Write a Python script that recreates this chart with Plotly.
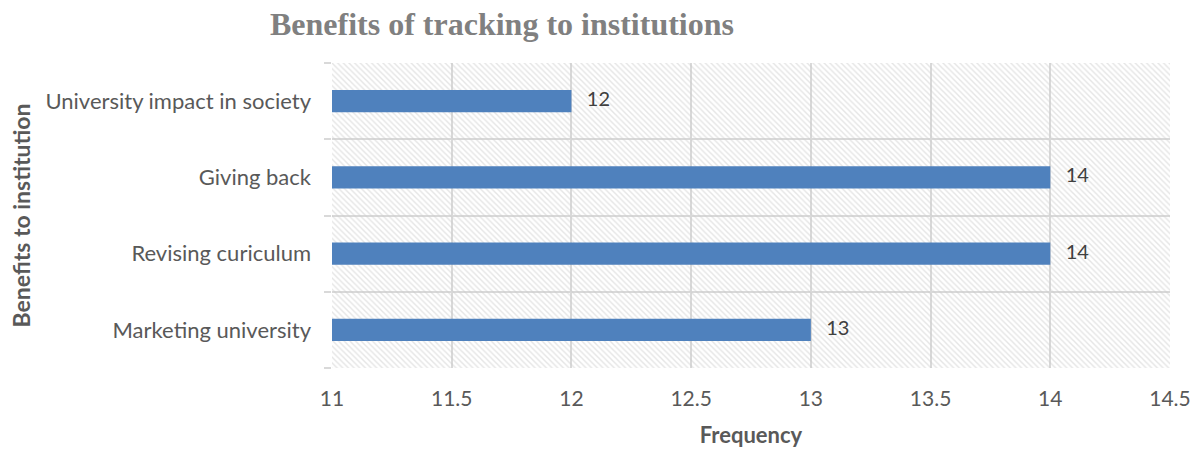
import plotly.graph_objects as go

categories = ["Marketing university", "Revising curiculum", "Giving back", "University impact in society"]
values = [13, 14, 14, 12]
x_ticks = [11, 11.5, 12, 12.5, 13, 13.5, 14, 14.5]
x_tick_labels = ["11", "11.5", "12", "12.5", "13", "13.5", "14", "14.5"]

XMIN, XMAX = 11, 14.5
FONT = "Lato, Open Sans, sans-serif"
GRID = "#D9D9D9"

fig = go.Figure()

# hatched plot-area background (decoration)
fig.add_trace(go.Bar(
    y=categories, x=[XMAX - XMIN] * len(categories), base=XMIN,
    orientation="h", width=1,
    marker=dict(color="rgba(0,0,0,0)", line=dict(width=0),
                pattern=dict(shape="\\", fgcolor="#CBCBCB", bgcolor="rgba(255,255,255,0)",
                             size=4, solidity=0.35, fillmode="overlay")),
    hoverinfo="skip", showlegend=False,
))

fig.add_trace(go.Bar(
    y=categories, x=[v - XMIN for v in values], base=XMIN,
    orientation="h", width=0.29,
    marker=dict(color="#4F81BD", line=dict(width=0)),
    showlegend=False,
))

fig.add_trace(go.Scatter(
    y=categories, x=values, mode="text",
    text=["\u00a0\u00a0\u00a0" + str(v) for v in values], textposition="middle right",
    textfont=dict(family=FONT, size=20, color="#404040"),
    showlegend=False, hoverinfo="skip", cliponaxis=False,
))

fig.update_layout(
    width=1198, height=452,
    margin=dict(l=332, r=28, t=63, b=84, autoexpand=False),
    paper_bgcolor="white", plot_bgcolor="white",
    barmode="overlay",
    title=dict(text="<b>Benefits of tracking to institutions</b>",
               font=dict(family="Liberation Serif, Times New Roman, serif", size=32, color="#808080"),
               x=502 / 1198, xanchor="center", xref="container",
               y=1 - 24 / 452, yanchor="middle", yref="container"),
    xaxis=dict(range=[XMIN, XMAX], tickvals=x_ticks, ticktext=x_tick_labels,
               showgrid=True, gridcolor=GRID, gridwidth=1.5, zeroline=False,
               showline=False, ticks="", automargin=False,
               tickfont=dict(family=FONT, size=21, color="#595959"),
               ticklabelstandoff=16,
               title=dict(text="<b>Frequency</b>", font=dict(family=FONT, size=22, color="#595959"),
                          standoff=18)),
    yaxis=dict(categoryorder="array", categoryarray=categories,
               range=[-0.5, len(categories) - 0.5],
               tickson="boundaries", showgrid=True, gridcolor=GRID, gridwidth=1.5,
               ticks="outside", ticklen=7, tickcolor=GRID, tickwidth=1.5,
               showline=False, zeroline=False, automargin=False,
               tickfont=dict(family=FONT, size=22, color="#595959"),
               ticklabelstandoff=20,
               title=dict(text="<b>Benefits to institution</b>",
                          font=dict(family=FONT, size=23, color="#595959"), standoff=8)),
)

fig.write_html("out.html")
